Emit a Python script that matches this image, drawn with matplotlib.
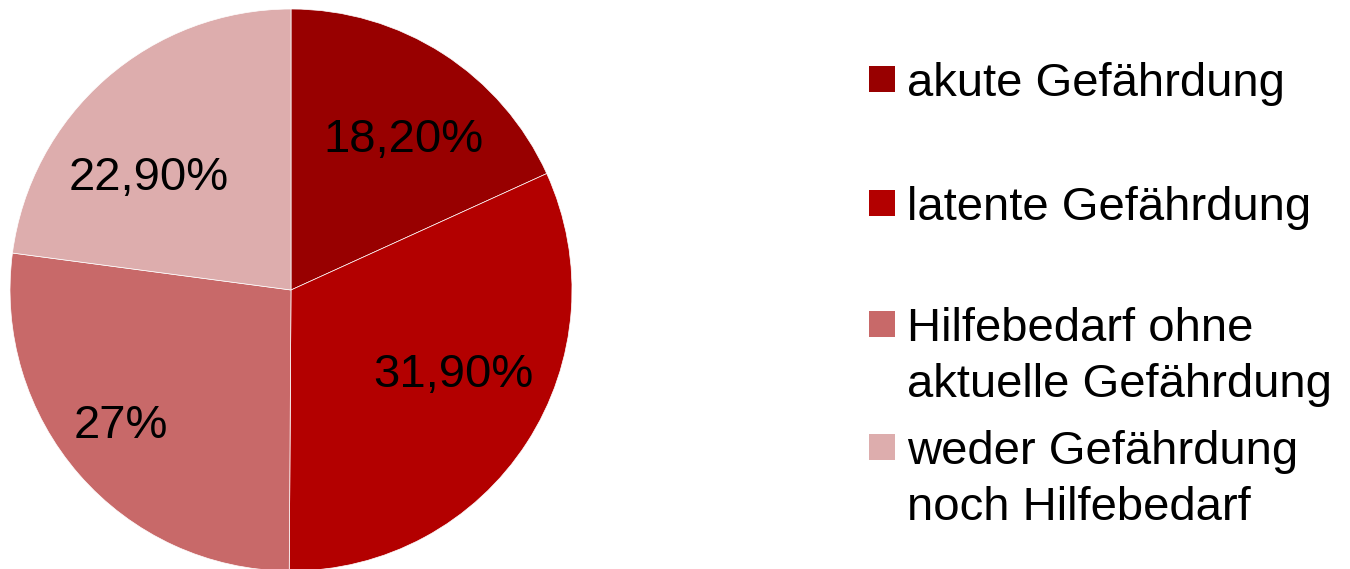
import numpy as np
import matplotlib.pyplot as plt
from matplotlib.patches import Rectangle

plt.rcParams['font.family'] = ['Liberation Sans', 'DejaVu Sans']

categories = ["akute Gefährdung", "latente Gefährdung",
              "Hilfebedarf ohne\naktuelle Gefährdung",
              "weder Gefährdung\nnoch Hilfebedarf"]
values = [18.2, 31.9, 27.0, 22.9]
value_labels = ["18,20%", "31,90%", "27%", "22,90%"]
colors = ["#980000", "#B30000", "#C86969", "#DDADAD"]

# label placement: radial distance and angle shift (deg) from wedge middle
label_radius = [0.635, 0.672, 0.802, 0.619]
label_shift = [-6.5, 2.0, 0.0, 13.6]

W, H = 1350, 569
fig = plt.figure(figsize=(W / 100, H / 100), dpi=100)

# pie: center (291, 290) px, radius 281 px
cx, cy, r = 291, 290, 281
ax = fig.add_axes([(cx - r) / W, (H - cy - r) / H, 2 * r / W, 2 * r / H])
wedges, _ = ax.pie(values, colors=colors, startangle=90, counterclock=False,
                   wedgeprops=dict(edgecolor="white", linewidth=0.5))
ax.set_xlim(-1, 1)
ax.set_ylim(-1, 1)
ax.set_aspect("equal")

for w, lab, rad, sh in zip(wedges, value_labels, label_radius, label_shift):
    ang = np.deg2rad((w.theta1 + w.theta2) / 2 + sh)
    ax.text(rad * np.cos(ang), rad * np.sin(ang), lab, fontsize=34,
            ha="center", va="baseline")

# legend drawn by hand so the square lines up with the first text line
sq = 26
sq_x = 869
centers = [79, 203, 324, 447]
line_gap = 56
for name, col, yc in zip(categories, colors, centers):
    fig.patches.append(Rectangle((sq_x / W, (H - yc - sq / 2) / H), sq / W, sq / H,
                                 facecolor=col, edgecolor="none",
                                 transform=fig.transFigure, figure=fig))
    for i, line in enumerate(name.split("\n")):
        fig.text(907 / W, (H - yc - 17 - i * line_gap) / H, line, fontsize=34,
                 ha="left", va="baseline")

fig.savefig("out.png", dpi=100)
